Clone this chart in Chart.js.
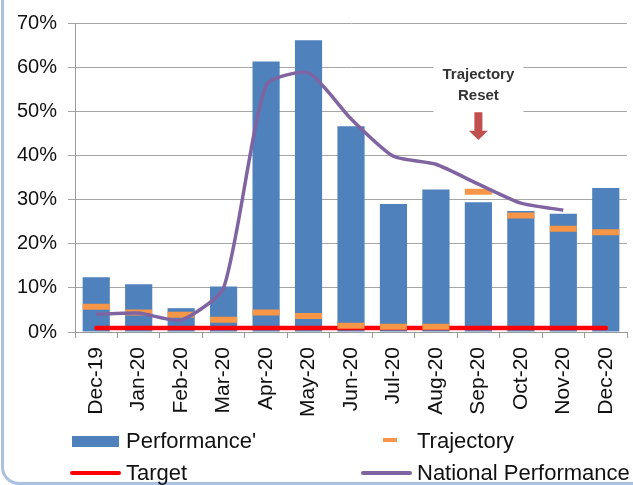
<!DOCTYPE html>
<html>
<head>
<meta charset="utf-8">
<script src="https://cdn.jsdelivr.net/npm/chart.js@4"></script>
<style>
  html, body { margin: 0; padding: 0; background: #fff; overflow: hidden; }
  #wrap { position: relative; width: 633px; height: 485px; }
  #frame { position: absolute; left: 1px; top: -20px; width: 700px; height: 505px; box-sizing: border-box;
           border: 3px solid #aac1e2; border-radius: 18px; }
  canvas { position: absolute; left: 0; top: 0; }
  .leg { position: absolute; font-family: "Liberation Sans", Arial, sans-serif; font-size: 22px;
         line-height: 1; color: #111; white-space: nowrap; }
  .key { position: absolute; }
</style>
</head>
<body>
<div id="wrap">
  <div id="frame"></div>
  <canvas id="chart1" width="633" height="485"></canvas>
  <div class="key" style="left:72px;top:436px;width:47px;height:11px;background:#4f81bd"></div>
  <div class="leg" style="left:126px;top:430px">Performance'</div>
  <div class="key" style="left:383px;top:438px;width:14px;height:4px;background:#f79646"></div>
  <div class="leg" style="left:417px;top:430px">Trajectory</div>
  <div class="key" style="left:70px;top:471px;width:51px;height:4px;background:#ff0000;border-radius:2px"></div>
  <div class="leg" style="left:126px;top:462px">Target</div>
  <div class="key" style="left:361px;top:471px;width:51px;height:4px;background:#8064a2;border-radius:2px"></div>
  <div class="leg" style="left:417px;top:462px">National Performance</div>
</div>
<script>
const chart1 = document.getElementById('chart1');

const labels = ['Dec-19', 'Jan-20', 'Feb-20', 'Mar-20', 'Apr-20', 'May-20', 'Jun-20',
                'Jul-20', 'Aug-20', 'Sep-20', 'Oct-20', 'Nov-20', 'Dec-20'];
const performance = [12.4, 10.8, 5.4, 10.3, 61.3, 66.1, 46.6, 29.0, 32.3, 29.4, 27.4, 26.8, 32.6];
const trajectory = [5.7, 4.4, 3.9, 2.8, 4.4, 3.6, 1.4, 1.2, 1.2, 31.8, 26.4, 23.4, 22.6];
const target = [0.9, 0.9, 0.9, 0.9, 0.9, 0.9, 0.9, 0.9, 0.9, 0.9, 0.9, 0.9, 0.9];
const national = [4.0, 4.3, 2.7, 10.0, 55.9, 58.7, 48.3, 39.8, 38.0, 33.5, 29.2, 27.6, null];
const yMax = 70;
const yStep = 10;
const resetMonth = 'Sep-20';

const FONT = '"Liberation Sans", Arial, sans-serif';

// "Trajectory Reset" note with the arrow, drawn over the grid
const resetNote = {
    id: 'resetNote',
    beforeDatasetsDraw(chart) {
        const ctx = chart.ctx;
        const x = chart.scales.x;
        const y = chart.scales.y;
        const cx = x.getPixelForValue(labels.indexOf(resetMonth));
        ctx.save();
        ctx.fillStyle = '#fff';
        ctx.fillRect(cx - 45, y.getPixelForValue(62), 90, y.getPixelForValue(48.7) - y.getPixelForValue(62));
        ctx.fillStyle = '#333';
        ctx.font = 'bold 15px ' + FONT;
        ctx.textAlign = 'center';
        ctx.textBaseline = 'middle';
        ctx.fillText('Trajectory', cx, y.getPixelForValue(58.3));
        ctx.fillText('Reset', cx, y.getPixelForValue(53.4));
        // arrow
        const top = y.getPixelForValue(49.8);
        const neck = y.getPixelForValue(45.6);
        const tip = y.getPixelForValue(43.5);
        ctx.fillStyle = '#c0504d';
        ctx.beginPath();
        ctx.moveTo(cx - 4, top);
        ctx.lineTo(cx + 4, top);
        ctx.lineTo(cx + 4, neck);
        ctx.lineTo(cx + 9.5, neck);
        ctx.lineTo(cx, tip);
        ctx.lineTo(cx - 9.5, neck);
        ctx.lineTo(cx - 4, neck);
        ctx.closePath();
        ctx.fill();
        ctx.restore();
    }
};

new Chart(chart1, {
    type: 'bar',
    data: {
        labels: labels,
        datasets: [
            {
                label: "Performance'",
                data: performance,
                backgroundColor: '#4f81bd',
                categoryPercentage: 1,
                barPercentage: 0.64,
                order: 4
            },
            {
                type: 'line',
                label: 'Target',
                data: target,
                borderColor: '#ff0000',
                borderWidth: 4.5,
                borderCapStyle: 'round',
                pointRadius: 0,
                order: 3
            },
            {
                type: 'line',
                label: 'Trajectory',
                data: trajectory,
                showLine: false,
                pointStyle: 'line',
                pointRadius: 13.5,
                pointBorderWidth: 6,
                borderColor: '#f79646',
                backgroundColor: '#f79646',
                order: 2
            },
            {
                type: 'line',
                label: 'National Performance',
                data: national,
                borderColor: '#8064a2',
                borderWidth: 3.5,
                tension: 0.2,
                pointRadius: 0,
                order: 1
            }
        ]
    },
    options: {
        responsive: false,
        animation: false,
        layout: { autoPadding: false, padding: { top: 20, right: 6, left: 0, bottom: 0 } },
        plugins: {
            legend: { display: false },
            tooltip: { enabled: false }
        },
        scales: {
            x: {
                grid: { offset: true, drawOnChartArea: false, tickLength: 6, color: '#999' },
                border: { color: '#999' },
                ticks: {
                    autoSkip: false,
                    minRotation: 90,
                    maxRotation: 90,
                    padding: 9,
                    color: '#111',
                    font: { family: FONT, size: 21 }
                },
                afterFit: function (scale) {
                    scale.height = 153;
                    scale.paddingLeft = 0;
                    scale.paddingRight = 0;
                }
            },
            y: {
                min: 0,
                max: yMax,
                grid: { color: '#a6a6a6', tickLength: 7 },
                border: { color: '#999' },
                ticks: {
                    stepSize: yStep,
                    padding: 11,
                    color: '#111',
                    font: { family: FONT, size: 20 },
                    callback: function (v) { return v + '%'; }
                },
                afterFit: function (scale) { scale.width = 75; }
            }
        }
    },
    plugins: [resetNote]
});
</script>
</body>
</html>
